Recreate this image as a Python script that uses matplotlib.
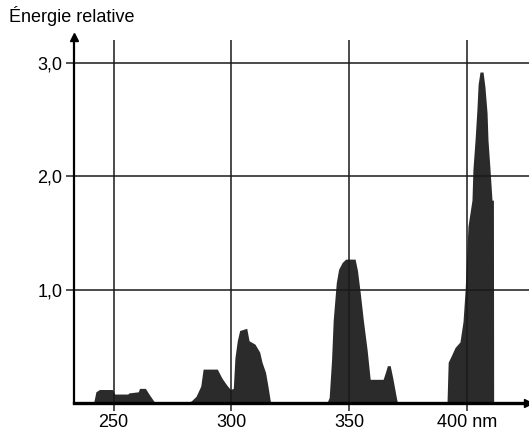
import numpy as np
import matplotlib.pyplot as plt

plt.rcParams['font.family'] = ['Liberation Sans', 'DejaVu Sans']

# spectre (nm, energie relative)
wavelength = [233, 241.5, 242.5, 244, 249.5, 250.5, 256, 256.5, 260.5, 261, 263.5, 265, 267, 268,
              281, 283, 285, 287, 288, 294, 296, 298, 299.6, 300.8, 301.5, 302.5, 303.5, 306.5,
              307.5, 310, 312, 313, 314.5, 315.5, 316.5, 317,
              340.5, 341.5, 342.5, 343.2, 344.5, 345.5, 347, 348.5, 352.5, 353.5, 354.7, 356,
              357.6, 358.9, 364.4, 365.5, 366.2, 367.4, 368.5, 370, 370.5,
              391.5, 392, 393.6, 394.9, 397, 398.3, 399.2, 400.4, 402.1, 402.5, 403.4, 404.2,
              404.7, 405.5, 406.8, 407.6, 408.5, 408.9, 409.7, 410.6, 411.2, 411.3, 426]
energy = [0, 0, 0.10, 0.12, 0.12, 0.08, 0.08, 0.09, 0.10, 0.13, 0.13, 0.08, 0.02, 0,
          0, 0.02, 0.06, 0.15, 0.30, 0.30, 0.22, 0.16, 0.12, 0.13, 0.40, 0.55, 0.64, 0.66,
          0.55, 0.52, 0.45, 0.36, 0.27, 0.15, 0.02, 0,
          0, 0.05, 0.38, 0.73, 1.06, 1.18, 1.24, 1.27, 1.27, 1.17, 0.97, 0.73,
          0.47, 0.21, 0.21, 0.28, 0.33, 0.33, 0.22, 0.05, 0,
          0, 0.36, 0.43, 0.49, 0.54, 0.72, 1.00, 1.56, 1.79, 2.06, 2.32, 2.59,
          2.81, 2.92, 2.92, 2.79, 2.56, 2.32, 2.08, 1.79, 1.79, 0, 0]

x_ticks = [250, 300, 350, 400]
x_labels = ['250', '300', '350', '400 nm']
y_ticks = [1.0, 2.0, 3.0]
y_labels = ['1,0', '2,0', '3,0']

fig = plt.figure(figsize=(5.29, 4.33), dpi=100)
ax = fig.add_axes([0.139, 0.069, 0.861, 0.838])

ax.fill_between(wavelength, 0, energy, color='#2b2b2b', lw=0, zorder=1)

ax.set_xlim(233, 426.3)
ax.set_ylim(0, 3.2)
ax.set_xticks(x_ticks)
ax.set_xticklabels(x_labels)
ax.set_yticks(y_ticks)
ax.set_yticklabels(y_labels)
ax.tick_params(direction='out', length=6, width=1.1, color='#222222',
               labelsize=13, pad=2)
ax.grid(True, color='#1a1a1a', lw=1.1, zorder=2)
ax.set_axisbelow(False)

for s in ['top', 'right']:
    ax.spines[s].set_visible(False)
ax.spines['left'].set_linewidth(1.6)
ax.spines['bottom'].set_linewidth(2.4)
ax.spines['left'].set_zorder(3)
ax.spines['bottom'].set_zorder(3)

# fleches des axes
ax.plot(0, 1.008, marker='^', color='black', ms=6, transform=ax.transAxes, clip_on=False)
ax.plot(0.997, 0, marker='>', color='black', ms=6, transform=ax.transAxes, clip_on=False)

fig.text(0.017, 0.962, 'Énergie relative', fontsize=13, va='center', ha='left')

fig.savefig('out.png', dpi=100)
